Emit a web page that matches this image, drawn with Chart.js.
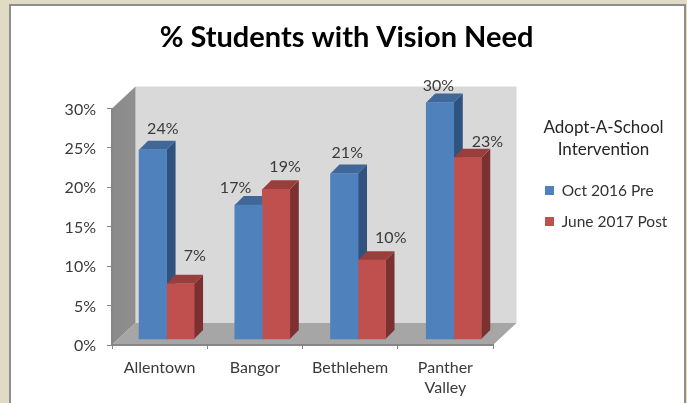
<!DOCTYPE html>
<html>
<head>
<meta charset="utf-8">
<script src="https://cdn.jsdelivr.net/npm/chart.js@4/dist/chart.umd.min.js"></script>
<style>
  html, body { margin: 0; padding: 0; background: #dfdbc5; overflow: hidden; }
  #frame { position: absolute; left: 9px; top: 4px; width: 673px; height: 420px; background: #fff; border: 2px solid #8e8e8e; }
  #myChart { position: absolute; left: 0; top: 0; }
</style>
</head>
<body>
<div id="frame"></div>
<canvas id="myChart" width="687" height="403"></canvas>
<script>
var schools = ['Allentown', 'Bangor', 'Bethlehem', ['Panther', 'Valley']];
var seriesNames = ['Oct 2016 Pre', 'June 2017 Post'];
var preValues = [24, 17, 21, 30];
var postValues = [7, 19, 10, 23];
var titleText = '% Students with Vision Need';
var legendTitle = ['Adopt-A-School', 'Intervention'];

// the labels were dragged around by hand in the original, so nudge each one
var preNudge = [[10, -21], [-13, -17], [3, -21], [-1.5, -17]];
var postNudge = [[14.5, -27.5], [9, -22], [19, -22], [20, -16]];

var textColor = '#3a3a3a';
var fontName = 'Lato, sans-serif';
var depthX = 23.5, depthY = 22;   // floor and side walls
var barDepth = 9;

var faces = [
  { front: '#4f81bd', top: '#3f6797', side: '#30527f' },
  { front: '#c0504d', top: '#983f3d', side: '#7b3130' }
];

function poly(ctx, pts, color) {
  ctx.beginPath();
  ctx.moveTo(pts[0][0], pts[0][1]);
  for (var i = 1; i < pts.length; i++) ctx.lineTo(pts[i][0], pts[i][1]);
  ctx.closePath();
  ctx.fillStyle = color;
  ctx.fill();
}

var box3d = {
  id: 'box3d',
  afterLayout: function(chart) {
    var lg = chart.legend;
    lg.left = 529.5;
    lg.width = 148;
    lg.right = lg.left + lg.width;
    lg.top = 100;
    lg.bottom = 260;
  },
  beforeDraw: function(chart) {
    var ctx = chart.ctx, a = chart.chartArea;
    var l = a.left, r = a.right, t = a.top, b = a.bottom;
    poly(ctx, [[l + depthX, t - depthY], [r + depthX, t - depthY], [r + depthX, b - depthY], [l + depthX, b - depthY]], '#d9d9d9');
    var wall = ctx.createLinearGradient(l, 0, l + depthX, 0);
    wall.addColorStop(0, '#8a8a8a');
    wall.addColorStop(1, '#8f8f8f');
    poly(ctx, [[l, t], [l + depthX, t - depthY], [l + depthX, b - depthY], [l, b]], wall);
    poly(ctx, [[l, b], [l + depthX, b - depthY], [r + depthX, b - depthY], [r, b]], '#a6a6a6');
  },
  beforeDatasetsDraw: function(chart) {
    var ctx = chart.ctx;
    chart.data.datasets.forEach(function(ds, i) {
      chart.getDatasetMeta(i).data.forEach(function(bar) {
        var p = bar.getProps(['x', 'y', 'base', 'width'], true);
        var x0 = p.x - p.width / 2, x1 = p.x + p.width / 2;
        poly(ctx, [[x1, p.y], [x1 + barDepth, p.y - barDepth], [x1 + barDepth, p.base - barDepth], [x1, p.base]], faces[i].side);
        poly(ctx, [[x0, p.y], [x1, p.y], [x1 + barDepth, p.y - barDepth], [x0 + barDepth, p.y - barDepth]], faces[i].top);
      });
    });
  },
  afterDatasetsDraw: function(chart) {
    var ctx = chart.ctx;
    ctx.font = '16px ' + fontName;
    ctx.fillStyle = textColor;
    ctx.textAlign = 'center';
    ctx.textBaseline = 'middle';
    chart.data.datasets.forEach(function(ds, i) {
      var nudge = i === 0 ? preNudge : postNudge;
      chart.getDatasetMeta(i).data.forEach(function(bar, j) {
        var p = bar.getProps(['x', 'y'], true);
        ctx.fillText(ds.data[j].y + '%', p.x + nudge[j][0], p.y + nudge[j][1]);
      });
    });
  }
};

function toPoints(values) {
  return values.map(function(v, i) { return { x: i, y: v }; });
}

var ctx = document.getElementById('myChart').getContext('2d');
window.myBar = new Chart(ctx, {
  type: 'bar',
  data: {
    labels: schools,
    datasets: [
      { label: seriesNames[0], data: toPoints(preValues), backgroundColor: faces[0].front, xAxisID: 'xBars', yAxisID: 'yBars', clip: false, borderWidth: 0 },
      { label: seriesNames[1], data: toPoints(postValues), backgroundColor: faces[1].front, xAxisID: 'xBars', yAxisID: 'yBars', clip: false, borderWidth: 0 }
    ]
  },
  options: {
    responsive: false,
    animation: false,
    devicePixelRatio: 1,
    layout: { padding: { left: 6, right: 0, top: 0, bottom: 0 } },
    scales: {
      x: {
        type: 'category',
        offset: true,
        grid: { drawOnChartArea: false, color: '#868686', tickLength: 4, offset: true },
        border: { color: '#868686', width: 2 },
        ticks: { color: textColor, font: { family: fontName, size: 16, lineHeight: 1.25 }, padding: 8.5, autoSkip: false, maxRotation: 0 },
        afterFit: function(scale) { scale.height = 58; }
      },
      y: {
        position: 'left',
        min: 0,
        max: 30,
        grid: { drawOnChartArea: false, color: '#868686', tickLength: 5 },
        border: { color: '#868686', width: 2 },
        ticks: { stepSize: 5, color: textColor, font: { family: fontName, size: 16 }, padding: 11, labelOffset: 1, callback: function(v) { return v + '%'; } },
        afterFit: function(scale) { scale.width = 106; }
      },
      // bars stand a little in from the axes, on the 3d floor
      xBars: { type: 'linear', display: false, offset: false, min: -0.57, max: 3.41 },
      yBars: {
        position: 'right',
        min: -0.76,
        max: 29.24,
        ticks: { display: false },
        grid: { display: false },
        border: { display: false },
        afterFit: function(scale) { scale.width = 194; }
      }
    },
    datasets: { bar: { barThickness: 27.5 } },
    plugins: {
      title: {
        display: true,
        text: titleText,
        color: '#000',
        font: { family: fontName, size: 29, weight: 'bold', lineHeight: 1.2 },
        padding: { top: 20, bottom: 53.7 }
      },
      legend: {
        position: 'chartArea',
        align: 'start',
        title: {
          display: true,
          text: legendTitle,
          color: '#262626',
          font: { family: fontName, size: 17, lineHeight: 1.32 },
          padding: { top: 19, bottom: 25.85 }
        },
        labels: { boxWidth: 9, boxHeight: 9, padding: 15.5, color: '#333333', font: { family: fontName, size: 15.5 } }
      },
      tooltip: { enabled: false }
    }
  },
  plugins: [box3d]
});
</script>
</body>
</html>
